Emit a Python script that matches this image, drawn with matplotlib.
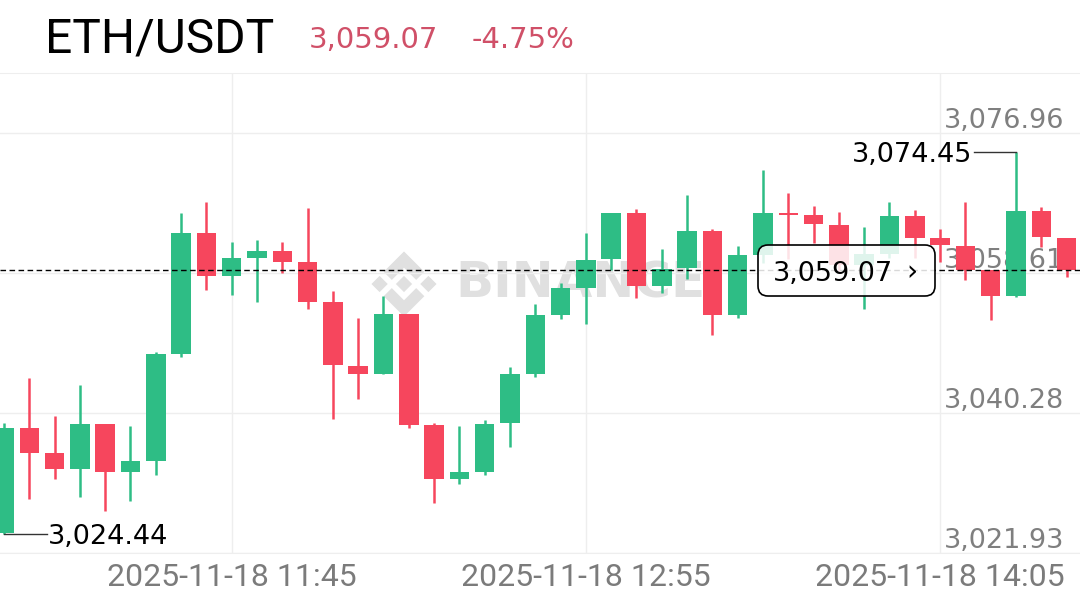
import numpy as np
import matplotlib.pyplot as plt
import matplotlib.transforms as mtransforms
from matplotlib.patches import FancyBboxPatch, Polygon

# ETH/USDT, 5 minute candles from 2025-11-18 11:00 to 14:30
opens = [3024.50, 3038.32, 3035.04, 3032.94, 3038.84, 3032.55, 3033.99, 3048.01, 3063.86, 3058.23,
         3060.58, 3061.50, 3060.06, 3054.82, 3046.44, 3045.39, 3053.25, 3038.71, 3031.63, 3032.55,
         3038.97, 3045.39, 3053.12, 3056.65, 3060.45, 3066.48, 3056.92, 3059.27, 3064.12, 3053.12,
         3060.98, 3066.48, 3066.22, 3064.91, 3059.67, 3061.11, 3066.09, 3063.20, 3062.16, 3059.01,
         3055.61, 3066.74, 3063.20]
highs = [3038.97, 3044.86, 3039.89, 3043.95, 3038.84, 3038.58, 3048.27, 3066.48, 3067.92, 3062.68,
         3062.94, 3062.68, 3067.13, 3056.26, 3052.72, 3055.61, 3053.25, 3038.97, 3038.58, 3039.36,
         3046.31, 3054.56, 3057.31, 3063.86, 3066.48, 3067.00, 3061.76, 3068.84, 3064.38, 3062.16,
         3072.11, 3069.10, 3067.40, 3066.61, 3064.64, 3067.92, 3066.87, 3064.38, 3067.92, 3059.01,
         3074.45, 3067.26, 3063.20]
lows = [3024.44, 3029.01, 3031.63, 3029.28, 3027.44, 3028.75, 3032.16, 3047.62, 3056.39, 3055.74,
        3054.82, 3058.62, 3053.90, 3039.49, 3042.11, 3045.39, 3038.32, 3028.49, 3030.98, 3032.16,
        3035.83, 3045.00, 3052.59, 3051.94, 3059.01, 3055.34, 3056.00, 3057.83, 3050.50, 3052.72,
        3059.90, 3060.50, 3062.55, 3058.90, 3053.90, 3060.58, 3060.58, 3060.06, 3057.70, 3052.46,
        3055.48, 3062.02, 3058.09]
closes = [3038.32, 3035.04, 3032.94, 3038.84, 3032.55, 3033.99, 3048.01, 3063.86, 3058.23, 3060.58,
          3061.50, 3060.06, 3054.82, 3046.57, 3045.39, 3053.25, 3038.71, 3031.63, 3032.55, 3038.84,
          3045.39, 3053.12, 3056.65, 3060.32, 3066.48, 3056.92, 3059.14, 3064.12, 3053.12, 3060.98,
          3066.48, 3066.22, 3065.04, 3059.67, 3061.11, 3066.09, 3063.20, 3062.29, 3059.01, 3055.61,
          3066.74, 3063.33, 3059.07]

tick_idx = [9, 23, 37]
tick_labels = ['2025-11-18 11:45', '2025-11-18 12:55', '2025-11-18 14:05']
price_levels = [3021.93, 3040.28, 3058.61, 3076.96]
last_price = 3059.07
change = '-4.75%'

up = '#2ebd85'
down = '#f6465d'
num_fs = 19.5

fig = plt.figure(figsize=(10.8, 6.16), dpi=100)
ax = fig.add_axes([0, 63 / 616, 1, 480 / 616])
ax.set_xlim(-0.158, 42.53)
ax.set_ylim(3021.93, 3084.82)

x = np.arange(len(opens))
o = np.array(opens)
c = np.array(closes)
cols = [up if cc >= oo else down for oo, cc in zip(o, c)]

# grid + frame
ax.set_xticks(tick_idx)
ax.set_xticklabels(tick_labels, fontfamily='Roboto', fontsize=23, color='#7b7b7b')
ax.set_yticks(price_levels)
ax.tick_params(axis='x', length=0, pad=7)
ax.tick_params(axis='y', left=False, labelleft=False)
ax.grid(color='#eeeeee', lw=1)
ax.set_axisbelow(True)
for s in ['left', 'right']:
    ax.spines[s].set_visible(False)
for s in ['top', 'bottom']:
    ax.spines[s].set_color('#eeeeee')

# watermark
px = mtransforms.Affine2D().scale(0.01) + fig.dpi_scale_trans
def wm(pts, cx=404, cy=616 - 284, u=37):
    return [(cx + a * u, cy + b * u) for a, b in pts]
shapes = [
    [(0, 0.22), (0.22, 0), (0, -0.22), (-0.22, 0)],
    [(0.66, 0.22), (0.88, 0), (0.66, -0.22), (0.44, 0)],
    [(-0.66, 0.22), (-0.44, 0), (-0.66, -0.22), (-0.88, 0)],
    [(0, 0.88), (0.55, 0.33), (0.33, 0.11), (0, 0.44), (-0.33, 0.11), (-0.55, 0.33)],
    [(0, -0.88), (0.55, -0.33), (0.33, -0.11), (0, -0.44), (-0.33, -0.11), (-0.55, -0.33)],
]
for sh in shapes:
    ax.add_patch(Polygon(wm(sh), closed=True, fc='#e0e0e0', ec='none',
                         transform=px, zorder=0.5, clip_on=False))
ax.text(455, 616 - 284, 'BINANCE', transform=px, fontsize=36, fontweight='bold',
        color='#e0e0e0', va='center', ha='left', zorder=0.5)

# price levels on the right
for v in price_levels:
    ax.annotate(f'{v:,.2f}', xy=(944 / 1080, v), xycoords=('axes fraction', 'data'),
                xytext=(0, 3.5), textcoords='offset points', va='baseline', ha='left',
                fontsize=num_fs, color='#7f7f7f', zorder=1)

# candles
body_h = np.maximum(np.abs(c - o), 0.25)
ax.vlines(x, lows, highs, colors=cols, lw=1.8, zorder=2)
ax.bar(x, body_h, bottom=np.minimum(o, c), width=0.77, color=cols, lw=0, zorder=2.1)

# last price line
ax.axhline(last_price, color='black', lw=1, ls=(0, (4, 2.5)), zorder=3)

# high / low markers
hi = int(np.argmax(highs))
lo = int(np.argmin(lows))
ax.plot([hi - 1.64, hi], [highs[hi], highs[hi]], color='#333333', lw=1, zorder=3)
ax.text(hi - 1.72, highs[hi], f'{highs[hi]:,.2f}', ha='right', va='center_baseline',
        fontsize=num_fs, color='black', zorder=3)
ax.plot([lo, lo + 1.7], [lows[lo], lows[lo]], color='#333333', lw=1, zorder=3)
ax.text(lo + 1.74, lows[lo], f'{lows[lo]:,.2f}', ha='left', va='center_baseline',
        fontsize=num_fs, color='black', zorder=3)

# last price box
box = FancyBboxPatch((7.58, 3.20), 1.77, 0.51, boxstyle='round,pad=0,rounding_size=0.1',
                     transform=fig.dpi_scale_trans, fc=(1, 1, 1, 0.85), ec='black',
                     lw=1.2, zorder=5, clip_on=False)
ax.add_patch(box)
ax.text(7.73, 3.455, f'{last_price:,.2f}', transform=fig.dpi_scale_trans, ha='left',
        va='center_baseline', fontsize=num_fs, color='black', zorder=6)
ax.text(9.12, 3.47, '›', transform=fig.dpi_scale_trans, ha='center', va='center_baseline',
        fontsize=20, color='black', zorder=6)

# header
fig.text(45 / 1080, 1 - 53 / 616, 'ETH/USDT', fontfamily='Roboto', fontsize=34.5,
         va='baseline', ha='left', color='black')
fig.text(309 / 1080, 1 - 48 / 616, f'{last_price:,.2f}', fontsize=21, va='baseline',
         ha='left', color='#d05068')
fig.text(472 / 1080, 1 - 48 / 616, change, fontsize=21, va='baseline', ha='left',
         color='#d05068')

fig.savefig('out.png', dpi=100, facecolor='white')
